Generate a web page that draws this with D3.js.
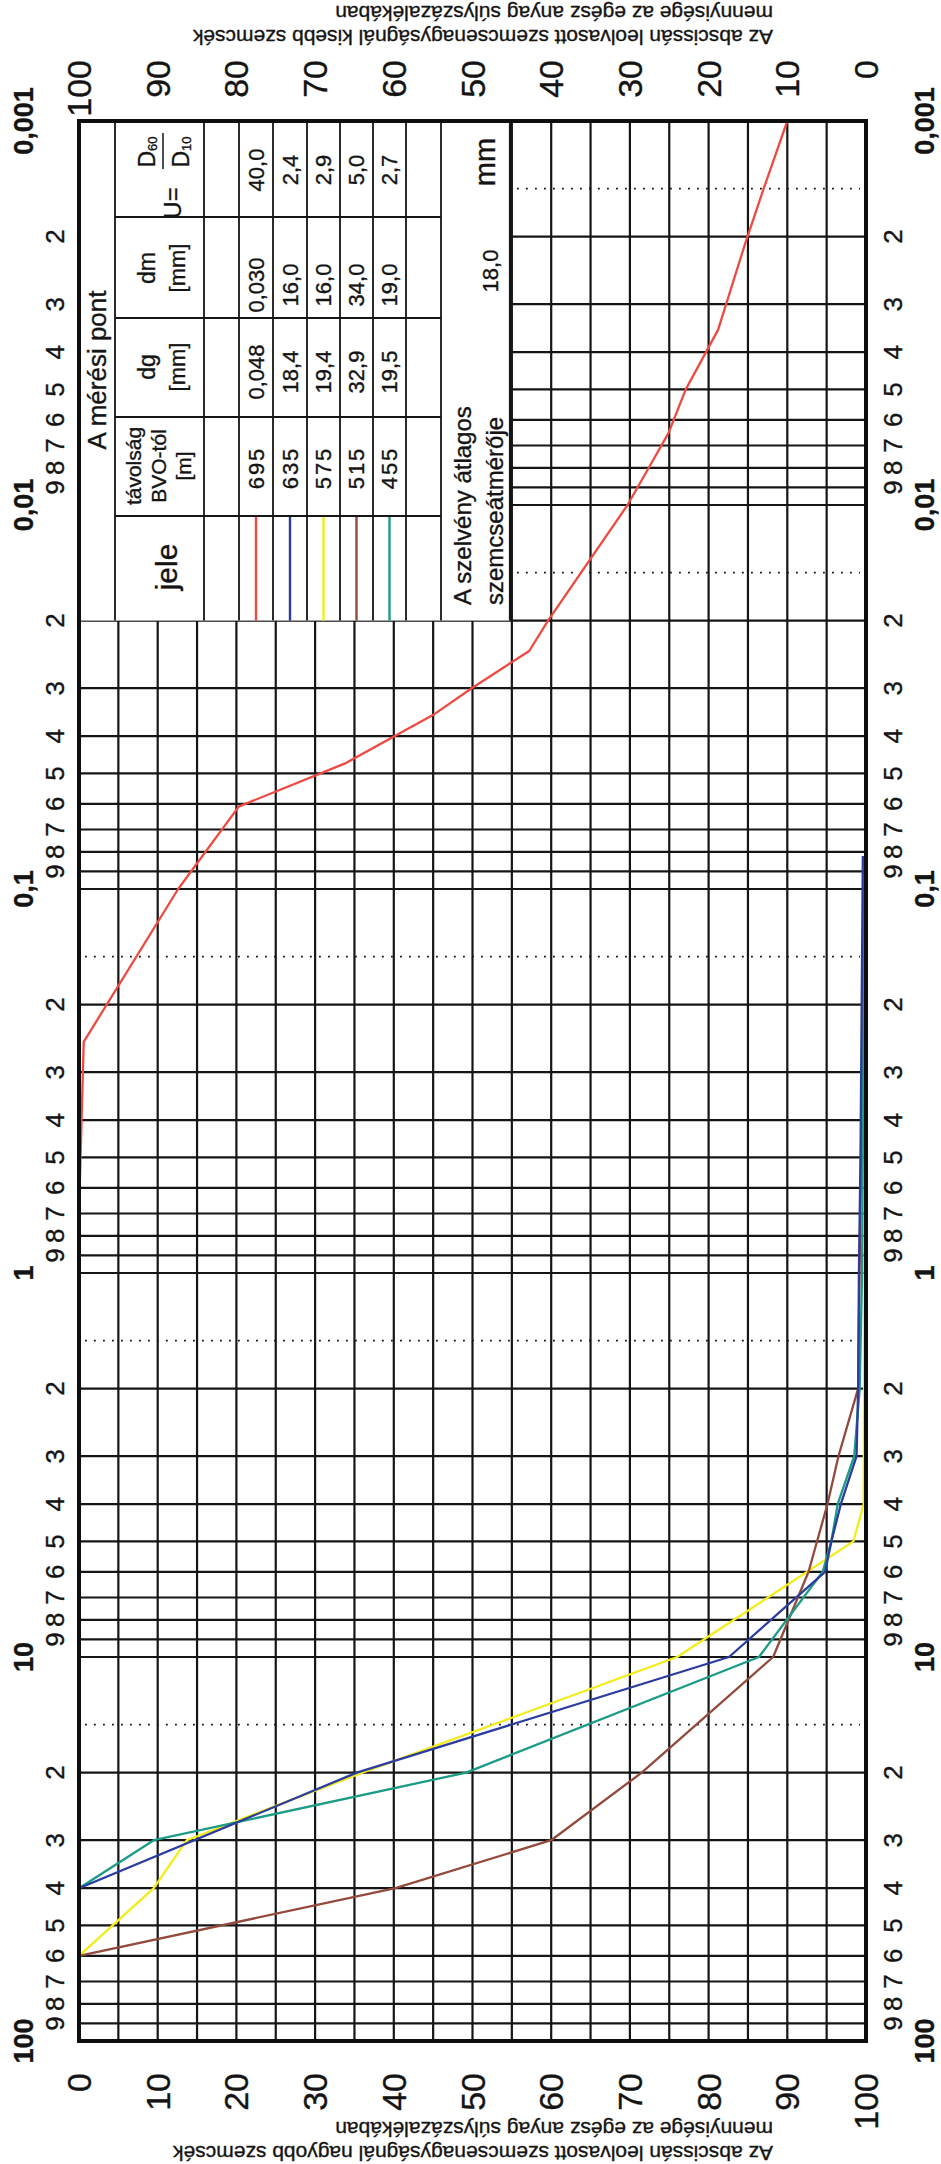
<!DOCTYPE html>
<html>
<head>
<meta charset="utf-8">
<script src="https://cdn.jsdelivr.net/npm/d3@7"></script>
<style>
  body { margin: 0; background: #fff; }
  svg { display: block; background: #fff; }
  text { font-family: "Liberation Sans", Arial, sans-serif; fill: #141414; stroke: #141414; stroke-width: 0.35px; }
</style>
</head>
<body>
<svg id="chart" width="941" height="2164"></svg>
<script>
// ---- sieve curves: grain size (mm) and passing percentage (finer than) ----
const redSize    = [0.001, 0.0015, 0.0021, 0.0035, 0.005, 0.0065, 0.008, 0.01, 0.02, 0.024, 0.03, 0.035, 0.047, 0.061, 0.1, 0.25, 0.7];
const redPass    = [10, 13, 15.4, 18.8, 22.9, 25.1, 27.6, 30.3, 40.4, 42.8, 50.1, 54.8, 66.1, 79.7, 87.4, 99.4, 100];
const blueSize   = [0.082, 0.5, 1, 2, 3, 4, 5, 6, 10, 20, 40];
const bluePass   = [0.4, 0.7, 0.9, 1.0, 1.2, 3.2, 4.4, 5.2, 17.4, 64.7, 100];
const yellowSize = [0.1, 4, 5, 10, 20, 30, 40, 60];
const yellowPass = [0, 0.3, 1.6, 24, 64, 86.3, 90.5, 100];
const brownSize  = [0.1, 2, 3, 4, 6, 10, 20, 30, 40, 60];
const brownPass  = [0.2, 1.0, 3.5, 4.9, 7.3, 11.8, 28.5, 40, 59.8, 100];
const greenSize  = [0.09, 1, 2, 3, 4, 5, 6, 10, 20, 30, 40];
const greenPass  = [0.2, 0.5, 0.8, 1.5, 3.6, 4.4, 5.5, 13.6, 50.8, 90.5, 100];

// ---- legend table ----
const stations = ["695", "635", "575", "515", "455"];
const dgValues = ["0,048", "18,4", "19,4", "32,9", "19,5"];
const dmValues = ["0,030", "16,0", "16,0", "34,0", "19,0"];
const uValues  = ["40,0", "2,4", "2,9", "5,0", "2,7"];
const seriesColors = ["#ee4a42", "#2b3c9f", "#f4ec17", "#93493b", "#1c9b86"];
const meanDiameter = "18,0";

// ---- axis labels ----
const pctTicks     = [0, 10, 20, 30, 40, 50, 60, 70, 80, 90, 100];
const decadeValues = [0.001, 0.01, 0.1, 1, 10, 100];
const decadeLabels = ["0,001", "0,01", "0,1", "1", "10", "100"];
const minorDigits  = [2, 3, 4, 5, 6, 7, 8, 9];
const titleFiner   = ["Az abscissán leolvasott szemcsenagyságnál kisebb szemcsék", "mennyisége az egész anyag súlyszázalékában"];
const titleCoarser = ["Az abscissán leolvasott szemcsenagyságnál nagyobb szemcsék", "mennyisége az egész anyag súlyszázalékában"];

const svg = d3.select("#chart");
const ink = "#151515";

// the sheet is printed turned: grain size runs down the page, percentages across
const x = d3.scaleLinear().domain([100, 0]).range([79, 866]);   // passing %
const y = d3.scaleLog().domain([0.001, 100]).range([121, 2041]); // grain size, mm

// text turned a quarter to the left (reads bottom to top)
function vtext(parent, tx, ty, str, size, anchor = "middle", weight = "normal") {
  return parent.append("text")
    .attr("transform", `translate(${tx},${ty}) rotate(-90)`)
    .attr("text-anchor", anchor)
    .attr("dominant-baseline", "central")
    .style("font-size", size + "px")
    .style("font-weight", weight)
    .text(str);
}

// ---- grid ----
const grid = svg.append("g");
const sizeLines = [];
for (let n = -3; n <= 1; n++) for (let k = 1; k <= 9; k++) sizeLines.push(+(k * Math.pow(10, n)).toPrecision(3));
sizeLines.push(100);

grid.selectAll("line.pv").data(d3.range(0, 101, 5)).join("line")
  .attr("x1", d => x(d)).attr("x2", d => x(d))
  .attr("y1", y(0.001)).attr("y2", y(100))
  .attr("stroke", ink).attr("stroke-width", 2.2);

grid.selectAll("line.sh").data(sizeLines).join("line")
  .attr("x1", x(100)).attr("x2", x(0))
  .attr("y1", d => y(d)).attr("y2", d => y(d))
  .attr("stroke", ink).attr("stroke-width", 2.2);

grid.selectAll("line.dot").data([0.0015, 0.015, 0.15, 1.5, 15]).join("line")
  .attr("x1", x(100) + 6).attr("x2", x(0) - 6)
  .attr("y1", d => y(d)).attr("y2", d => y(d))
  .attr("stroke", ink).attr("stroke-width", 1.8)
  .attr("stroke-dasharray", "1.8,7.2");

// ---- legend table (covers the upper-left part of the grid) ----
const T = { x0: 79, x1: 510, y0: y(0.001), y1: y(0.02) };
const tbl = svg.append("g");
tbl.append("rect").attr("x", T.x0).attr("y", T.y0).attr("width", T.x1 - T.x0).attr("height", T.y1 - T.y0).attr("fill", "#fff");

const rowLines = [115, 204, 239, 273, 307, 340, 373, 406, 441];
tbl.selectAll("line.r").data(rowLines).join("line")
  .attr("x1", d => d).attr("x2", d => d).attr("y1", T.y0).attr("y2", T.y1)
  .attr("stroke", ink).attr("stroke-width", 1.8);
const colLines = [217, 318, 417, 516];
tbl.selectAll("line.c").data(colLines).join("line")
  .attr("x1", 115).attr("x2", 441).attr("y1", d => d).attr("y2", d => d)
  .attr("stroke", ink).attr("stroke-width", 1.8);
tbl.append("line").attr("x1", T.x1).attr("x2", T.x1).attr("y1", T.y0).attr("y2", T.y1)
  .attr("stroke", ink).attr("stroke-width", 2.2);

const rowCenters = [256, 290, 323.5, 356.5, 389.5];
vtext(tbl, 97, 370, "A mérési pont", 26);
vtext(tbl, 166, 567, "jele", 30);
vtext(tbl, 133, 466, "távolság", 21);
vtext(tbl, 158, 466, "BVO-tól", 21);
vtext(tbl, 183, 466, "[m]", 21);
vtext(tbl, 147, 367, "dg", 23);
vtext(tbl, 177, 367, "[mm]", 22);
vtext(tbl, 147, 268, "dm", 23);
vtext(tbl, 177, 268, "[mm]", 22);
vtext(tbl, 172, 203, "U=", 24);
tbl.append("line").attr("x1", 163).attr("x2", 163).attr("y1", 133).attr("y2", 169)
  .attr("stroke", ink).attr("stroke-width", 1.5);
[["D", "60", 147], ["D", "10", 181]].forEach(([b, s, px]) => {
  const t = vtext(tbl, px, 152, "", 23);
  t.append("tspan").text(b);
  t.append("tspan").attr("dy", 5).style("font-size", "13px").text(s);
});

stations.forEach((d, i) => vtext(tbl, rowCenters[i], 468, d, 22).style("letter-spacing", "2px"));
dgValues.forEach((d, i) => vtext(tbl, rowCenters[i], 372, d, 22));
dmValues.forEach((d, i) => vtext(tbl, rowCenters[i], 285, d, 22));
uValues.forEach((d, i) => vtext(tbl, rowCenters[i], 170, d, 22));
tbl.selectAll("line.key").data(seriesColors).join("line")
  .attr("x1", (d, i) => rowCenters[i]).attr("x2", (d, i) => rowCenters[i])
  .attr("y1", 517).attr("y2", T.y1)
  .attr("stroke", d => d).attr("stroke-width", 2.4);

vtext(tbl, 462, 605, "A szelvény átlagos", 24, "start");
vtext(tbl, 494, 605, "szemcseátmérője", 24, "start");
vtext(tbl, 490, 271, meanDiameter, 22);
vtext(tbl, 485, 162, "mm", 29);

// ---- curves ----
const line = d3.line().x(d => x(d[1])).y(d => y(d[0]));
const series = [
  [redSize, redPass, seriesColors[0]],
  [yellowSize, yellowPass, seriesColors[2]],
  [brownSize, brownPass, seriesColors[3]],
  [greenSize, greenPass, seriesColors[4]],
  [blueSize, bluePass, seriesColors[1]]
];
const curves = svg.append("g");
series.forEach(([s, p, c]) => {
  curves.append("path").datum(s.map((v, i) => [v, p[i]]))
    .attr("d", line).attr("fill", "none")
    .attr("stroke", c).attr("stroke-width", 2.3).attr("stroke-linejoin", "round");
});

// ---- frame ----
svg.append("rect").attr("x", x(100)).attr("y", y(0.001))
  .attr("width", x(0) - x(100)).attr("height", y(100) - y(0.001))
  .attr("fill", "none").attr("stroke", "#0e0e0e").attr("stroke-width", 4);

// ---- grain size labels on both sides ----
const ax = svg.append("g");
[[24, 55], [925, 893]].forEach(([bx, sx]) => {
  decadeValues.forEach((v, i) => vtext(ax, bx, y(v), decadeLabels[i], 27, "middle", "bold"));
  decadeValues.slice(0, 5).forEach(v => {
    minorDigits.forEach(k => vtext(ax, sx, y(v * k), String(k), 26));
  });
});

// ---- percentage labels: coarser-than along the bottom, finer-than along the top ----
pctTicks.forEach(p => vtext(ax, x(100 - p), 2073, String(p), 34, "end"));
pctTicks.forEach(p => vtext(ax, x(p), 60, String(p), 34, "end"));

// ---- axis titles (printed upside down) ----
function flipText(tx, ty, str) {
  svg.append("text")
    .attr("transform", `translate(${tx},${ty}) rotate(180)`)
    .attr("text-anchor", "start")
    .attr("dominant-baseline", "central")
    .style("font-size", "21px")
    .text(str);
}
flipText(773, 37, titleFiner[0]);
flipText(773, 13, titleFiner[1]);
flipText(773, 2153, titleCoarser[0]);
flipText(773, 2129, titleCoarser[1]);
</script>
</body>
</html>
